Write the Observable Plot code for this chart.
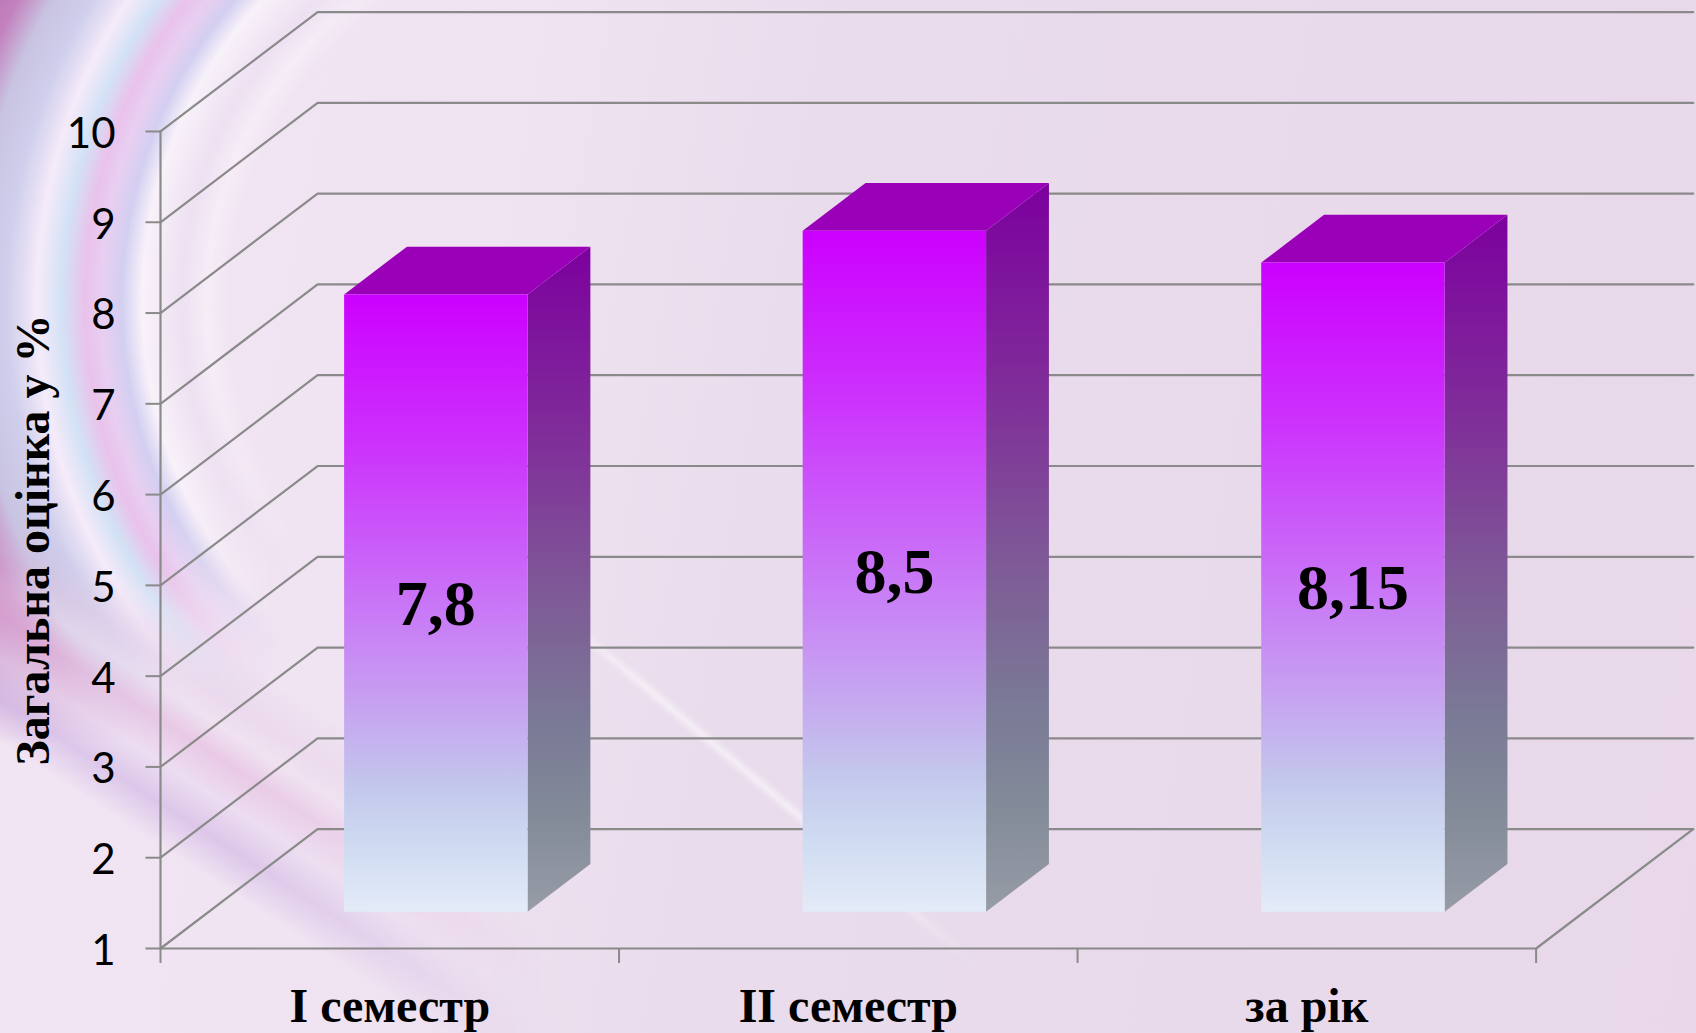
<!DOCTYPE html>
<html lang="uk">
<head>
<meta charset="utf-8">
<script src="https://cdn.jsdelivr.net/npm/d3@7"></script>
<script src="https://cdn.jsdelivr.net/npm/@observablehq/plot@0.6"></script>
<style>
html,body{margin:0;padding:0;width:1696px;height:1033px;overflow:hidden;background:#e9dcec}
#bg,#bg div{position:absolute;left:0;top:0;width:1696px;height:1033px}
#bg{background:linear-gradient(100deg,#f2e5f4 0%,#efe2f1 30%,#e9dcec 45%,#e8d8ea 100%)}
#ringY{-webkit-mask-image:linear-gradient(180deg,#000 0,#000 55%,transparent 72%);mask-image:linear-gradient(180deg,#000 0,#000 55%,transparent 72%)}
#ring{background:radial-gradient(circle 760px at 582px 302px,
  rgba(255,255,255,0) 0,rgba(255,255,255,0) 350px,rgba(255,255,255,.35) 375px,rgba(225,215,240,.2) 400px,
  rgba(255,255,255,.5) 440px,rgba(200,200,240,.75) 460px,rgba(228,200,240,.75) 480px,rgba(232,185,232,.8) 497px,
  rgba(205,225,245,.85) 520px,rgba(245,235,250,.9) 545px,rgba(205,205,235,.95) 575px,rgba(200,195,225,1) 610px,rgba(195,130,190,1) 640px,rgba(185,115,180,1) 670px);
  -webkit-mask-image:linear-gradient(105deg,#000 0,#000 300px,transparent 440px);mask-image:linear-gradient(105deg,#000 0,#000 300px,transparent 440px)}
#streak{background:linear-gradient(33deg,rgba(0,0,0,0) 245px,rgba(200,170,225,.5) 280px,rgba(230,210,238,.35) 315px,rgba(225,170,215,.45) 350px,rgba(240,225,240,.3) 377px,rgba(225,195,225,.3) 402px,rgba(0,0,0,0) 442px);
  -webkit-mask-image:linear-gradient(90deg,#000 0,#000 14%,transparent 32%);mask-image:linear-gradient(90deg,#000 0,#000 14%,transparent 32%)}
#glint{background:linear-gradient(40deg,rgba(255,255,255,0) 672px,rgba(255,255,255,.5) 680px,rgba(255,255,255,0) 688px);
  -webkit-mask-image:linear-gradient(90deg,transparent 30%,#000 38%,#000 50%,transparent 58%);mask-image:linear-gradient(90deg,transparent 30%,#000 38%,#000 50%,transparent 58%)}
#chart{position:absolute;left:0;top:0}
#chart svg{display:block;background:none}
</style>
</head>
<body>
<div id="bg"><div id="ringY"><div id="ring"></div></div><div id="streak"></div><div id="glint"></div></div>
<div id="chart"></div>
<script>
// Chart values
const categories = ["I семестр", "II семестр", "за рік"];
const values = [7.8, 8.5, 8.15];
const valueLabels = ["7,8", "8,5", "8,15"];
const yTicks = [1, 2, 3, 4, 5, 6, 7, 8, 9, 10];
const xTicks = [0, 1, 2, 3];
const yLabel = "Загальна оцінка у %";

// Oblique 3D projection expressed in data units: depth z runs 0 (front) to 1 (back)
const depthX = 0.3426, depthY = 1.315;
const barFront = 0.3, barBack = 0.7, barStart = 0.2977, barEnd = 0.6977, floorY = 1, barLift = 0.011;
const px = (x, z) => x + z * depthX;
const py = (y, z) => y + z * depthY;
const pt = (id, x, y, z) => ({id, x: px(x, z), y: py(y, z)});

const front = [], side = [], top_ = [];
values.forEach((v, i) => {
  const a = i + barStart, b = i + barEnd, y0 = floorY + barLift, y1 = v + barLift;
  front.push(pt(i, a, y0, barFront), pt(i, b, y0, barFront), pt(i, b, y1, barFront), pt(i, a, y1, barFront));
  side.push(pt(i, b, y0, barFront), pt(i, b, y0, barBack), pt(i, b, y1, barBack), pt(i, b, y1, barFront));
  top_.push(pt(i, a, y1, barFront), pt(i, b, y1, barFront), pt(i, b, y1, barBack), pt(i, a, y1, barBack));
});

const gridLines = [];
yTicks.forEach(t => gridLines.push(pt(t, 0, t, 0), pt(t, 0, t, 1), pt(t, 3, t, 1)));
const floorEdge = [pt("f", 0, floorY, 0), pt("f", 3, floorY, 0), pt("f", 3, floorY, 1)];
const wall = [pt("w", 0, 1, 0), pt("w", 0, 10, 0)];

const gradients = () => {
  const defs = d3.create("svg:defs");
  const add = (id, stops) => {
    const g = defs.append("linearGradient").attr("id", id).attr("x1", 0).attr("y1", 0).attr("x2", 0).attr("y2", 1);
    stops.forEach(([o, c]) => g.append("stop").attr("offset", o).attr("stop-color", c));
  };
  add("frontGrad", [[0, "#cc00ff"], [0.25, "#cc33fc"], [0.5, "#c975f7"], [0.68, "#c6a6f0"], [0.8, "#c3c8ec"], [0.9, "#cfdcf1"], [1, "#e4ebf8"]]);
  add("sideGrad", [[0, "#7c009e"], [0.3, "#803099"], [0.55, "#7e5f96"], [0.72, "#7a7a96"], [0.85, "#828a98"], [1, "#979ca6"]]);
  return defs.node();
};

const gridStroke = "#8a8a8a";
const serif = "'Liberation Serif', serif";

const chart = Plot.plot({
  width: 1696, height: 1033,
  marginLeft: 160, marginRight: 3.3, marginTop: 11.6, marginBottom: 85,
  style: {background: "transparent", overflow: "visible"},
  x: {domain: [0, 3 + depthX], axis: null},
  y: {domain: [1, 10 + depthY], axis: null},
  marks: [
    gradients,
    Plot.line(gridLines, {x: "x", y: "y", z: "id", stroke: gridStroke, strokeWidth: 2.2}),
    Plot.line(floorEdge, {x: "x", y: "y", z: "id", stroke: gridStroke, strokeWidth: 2.2}),
    Plot.line(wall, {x: "x", y: "y", z: "id", stroke: gridStroke, strokeWidth: 2.2}),
    Plot.axisY({ticks: yTicks, tickSize: 14.5, tickPadding: 31, stroke: gridStroke, strokeWidth: 2, text: null, label: null, strokeOpacity: 1}),
    Plot.text(yTicks, {x: 0, y: d => d, text: d => String(d), dx: -45, dy: 3, textAnchor: "end", fontSize: 42, fontFamily: "Lato, sans-serif", fill: "#000"}),
    Plot.axisX({ticks: xTicks, tickSize: 15, tickFormat: () => "", stroke: gridStroke, strokeWidth: 2, label: null, strokeOpacity: 1}),
    Plot.line(side, {x: "x", y: "y", z: "id", fill: "url(#sideGrad)", stroke: "none", curve: "linear-closed"}),
    Plot.line(top_, {x: "x", y: "y", z: "id", fill: "#9a00b8", stroke: "none", curve: "linear-closed"}),
    Plot.line(front, {x: "x", y: "y", z: "id", fill: "url(#frontGrad)", stroke: "none", curve: "linear-closed"}),
    Plot.text(values, {
      x: (d, i) => px(i + 0.4977, barFront),
      y: d => py((d + floorY) / 2, barFront),
      text: (d, i) => valueLabels[i],
      fontFamily: serif, fontWeight: "bold", fontSize: 64, fill: "#000"
    }),
    Plot.text(categories, {
      x: (d, i) => i + 0.5,
      y: floorY,
      text: d => d,
      dy: 58,
      fontFamily: serif, fontWeight: "bold", fontSize: 48, fill: "#000"
    }),
    Plot.text([yLabel], {
      x: 0,
      y: 5.5,
      dx: -127,
      text: d => d,
      rotate: -90,
      fontFamily: serif, fontWeight: "bold", fontSize: 48, fill: "#000"
    })
  ]
});
document.getElementById("chart").appendChild(chart);
</script>
</body>
</html>
